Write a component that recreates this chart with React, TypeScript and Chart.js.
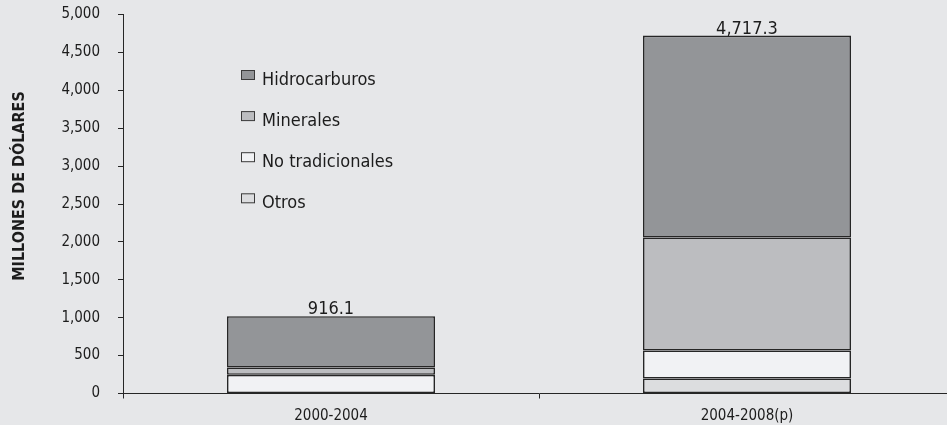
import React, { useEffect, useRef } from "react";
import { Chart, registerables } from "chart.js";

Chart.register(...registerables);

const categories = ["2000-2004", "2004-2008(p)"];
const otros = [0, 198];
const noTradicionales = [247, 369];
const minerales = [96, 1491];
const hidrocarburos = [677, 2664];
const totalLabels = ["916.1", "4,717.3"];
const yTicks = [0, 500, 1000, 1500, 2000, 2500, 3000, 3500, 4000, 4500, 5000];

const FONT = "'DejaVu Sans Condensed', 'DejaVu Sans', sans-serif";
const TEXT = "#1c1c1c";
const BORDER = "#262626";

const seriesNames = ["Otros", "No tradicionales", "Minerales", "Hidrocarburos"];
const seriesColors = ["#dcdddf", "#f1f2f4", "#bcbdc0", "#939598"];

const overlayPlugin = {
  id: "overlay",
  afterDatasetsDraw(chart: any) {
    const ctx = chart.ctx;
    const top = chart.getDatasetMeta(chart.data.datasets.length - 1);
    ctx.save();
    ctx.fillStyle = TEXT;
    ctx.font = `18px ${FONT}`;
    ctx.textAlign = "center";
    ctx.textBaseline = "alphabetic";
    top.data.forEach((el: any, i: number) => {
      ctx.fillText(totalLabels[i], el.x, el.y - 2);
    });
    ctx.restore();
  },
  afterDraw(chart: any) {
    const ctx = chart.ctx;
    ctx.save();
    ctx.fillStyle = TEXT;
    ctx.font = `bold 16px ${FONT}`;
    ctx.translate(24, 186);
    ctx.rotate(-Math.PI / 2);
    ctx.textAlign = "center";
    ctx.textBaseline = "alphabetic";
    ctx.fillText("MILLONES DE DÓLARES", 0, 0);
    ctx.restore();

    ctx.save();
    ctx.font = `18px ${FONT}`;
    ctx.textBaseline = "alphabetic";
    ctx.textAlign = "left";
    const ds = chart.data.datasets;
    const order = [3, 2, 1, 0];
    order.forEach((di, row) => {
      const base = 85 + row * 41.1;
      ctx.fillStyle = ds[di].backgroundColor;
      ctx.fillRect(241.5, base - 14.5, 13, 9);
      ctx.strokeStyle = "#3a3a3a";
      ctx.lineWidth = 1;
      ctx.strokeRect(241.5, base - 14.5, 13, 9);
      ctx.fillStyle = TEXT;
      ctx.fillText(ds[di].label, 262, base);
    });
    ctx.restore();
  },
};

export default function App() {
  const ref = useRef<HTMLCanvasElement>(null);
  useEffect(() => {
    if (!ref.current) return;
    const values = [otros, noTradicionales, minerales, hidrocarburos];
    const chart = new Chart(ref.current, {
      type: "bar",
      data: {
        labels: categories,
        datasets: values.map((v, i) => ({
          label: seriesNames[i],
          data: v,
          backgroundColor: seriesColors[i],
          borderColor: BORDER,
          borderWidth: 1.6,
          borderSkipped: false,
          categoryPercentage: 1,
          barPercentage: 0.5,
        })),
      },
      options: {
        responsive: false,
        animation: false,
        layout: { padding: { top: 14.5, left: 0, right: 0, bottom: 0 } },
        plugins: {
          legend: { display: false },
          tooltip: { enabled: false },
        },
        scales: {
          x: {
            stacked: true,
            grid: {
              display: true,
              drawOnChartArea: false,
              drawTicks: true,
              tickLength: 5,
              color: BORDER,
              offset: true,
            },
            border: { display: true, color: BORDER, width: 1 },
            ticks: {
              color: TEXT,
              font: { family: FONT, size: 15 },
              padding: 9,
            },
            afterFit(scale: any) {
              scale.height = 31.5;
              scale.paddingLeft = 0;
              scale.paddingRight = 0;
            },
          },
          y: {
            stacked: true,
            min: 0,
            max: 5000,
            afterBuildTicks(scale: any) {
              scale.ticks = yTicks.map((v) => ({ value: v }));
            },
            grid: {
              display: true,
              drawOnChartArea: false,
              drawTicks: true,
              tickLength: 5,
              color: BORDER,
            },
            border: { display: true, color: BORDER, width: 1 },
            ticks: {
              color: TEXT,
              font: { family: FONT, size: 15 },
              padding: 18,
              callback: (v: any) => Number(v).toLocaleString("en-US"),
            },
            afterFit(scale: any) {
              scale.width = 123;
              scale.paddingTop = 0;
              scale.paddingBottom = 0;
            },
          },
        },
      },
      plugins: [overlayPlugin],
    });
    return () => chart.destroy();
  }, []);

  return (
    <div
      style={{
        position: "absolute",
        left: 0,
        top: 0,
        width: 947,
        height: 425,
        overflow: "hidden",
        background: "#e6e7e9",
      }}
    >
      <canvas ref={ref} width={955} height={425} style={{ display: "block" }} />
    </div>
  );
}
